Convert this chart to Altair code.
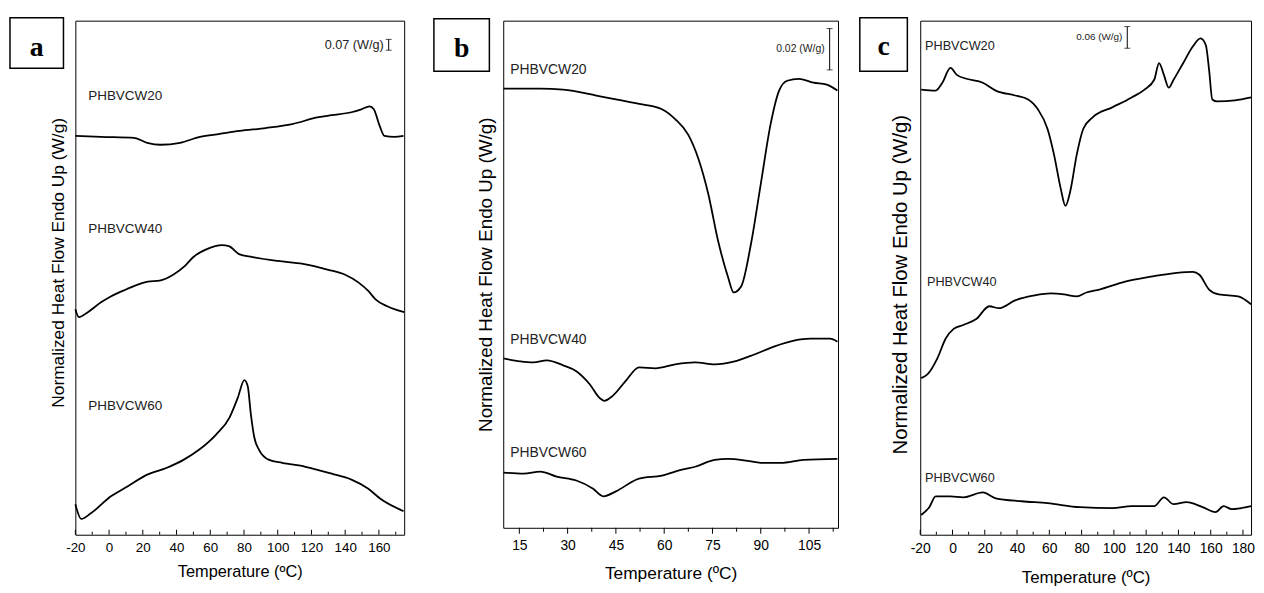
import altair as alt
import pandas as pd

FONT = "Liberation Sans"
SERIF = "Liberation Serif"
SAMPLES = ["PHBVCW20", "PHBVCW40", "PHBVCW60"]

# ---------------- Panel a (heat flow, arbitrary units) ----------------
a20_t = [-20, -4.8, 14.8, 22.6, 30.4, 42.1, 53.9, 65.6, 77.3, 92.9, 108.6, 124.2, 132, 143.7, 149.6, 154.5, 157, 160.3, 163.3, 169.1, 174.6]
a20_v = [405, 404, 403, 398, 396, 398, 404, 407, 410, 413, 417, 424, 426, 429, 432, 435, 432, 416, 405, 404, 405]
a40_t = [-20, -17.9, -12.6, -4.8, 1, 10, 23, 30, 38, 45, 50, 58, 67, 71, 77, 85, 100, 115, 130, 140, 148, 154, 158, 165, 175]
a40_v = [229, 221, 226, 236, 242, 249, 257, 258, 264, 273, 282, 290, 294, 293, 285, 282, 278, 275, 269, 264, 256, 247, 239, 232, 226]
a60_t = [-20, -16.5, -10.6, 1.1, 10.9, 22.6, 34.3, 44.1, 53.9, 63.6, 71.4, 76.3, 80.2, 82.2, 84.1, 86.1, 89, 94.9, 102.7, 116.4, 132, 143.7, 153.5, 161.3, 174.6]
a60_v = [31, 16, 22, 39, 49, 61, 68, 76, 87, 102, 119, 139, 157, 151, 122, 99, 86, 76, 73, 69, 62, 56, 47, 36, 24]
a_label_t = [-12.4, -12.4, -12.4]
a_label_v = [445, 310, 131]
a_bar_t = 165.8
a_bar_v = [492, 503]
a_bar_text = "0.07 (W/g)"
a_major = [-20, 0, 20, 40, 60, 80, 100, 120, 140, 160]
a_minor = [-10, 10, 30, 50, 70, 90, 110, 130, 150, 170]

# ---------------- Panel b ----------------
b20_t = [10.1, 21.5, 28.6, 38.9, 45, 53.2, 59.3, 63.4, 67.5, 70.6, 73.7, 76.7, 79.8, 81.6, 83.9, 87, 90, 93, 95.7, 98.2, 101.8, 106.4, 110.5, 113.8]
b20_v = [446, 446, 445, 439, 435, 430, 425, 415, 399, 375, 339, 292, 255, 239, 245, 289, 349, 409, 444, 454, 456, 452, 450, 444]
b40_t = [10.1, 15.3, 19.4, 23.5, 28.6, 32.7, 36.8, 39.9, 41.4, 44, 48, 52.2, 57.3, 63.4, 69.6, 75.7, 81.9, 88, 94.1, 100.3, 105.4, 111.5, 113.8]
b40_v = [172, 169, 168, 170, 165, 159, 146, 132, 129, 134, 149, 163, 162, 166, 168, 166, 169, 176, 184, 190, 192, 192, 189]
b60_t = [10.1, 16.3, 21.5, 26.6, 32.7, 37.8, 41.1, 45, 52.2, 59.3, 65.5, 69.6, 75.7, 79.8, 85.9, 90, 96.2, 103.3, 113.8]
b60_v = [56, 55, 57, 52, 48, 40, 32, 37, 50, 53, 59, 62, 69, 70, 68, 66, 66, 69, 70]
b_label_t = [12.2, 12.2, 12.2]
b_label_v = [465, 191, 76]
b_bar_t = 111.4
b_bar_v = [465, 507]
b_bar_text = "0.02 (W/g)"
b_major = [15, 30, 45, 60, 75, 90, 105]
b_minor = [22.5, 37.5, 52.5, 67.5, 82.5, 97.5, 112.5]

# ---------------- Panel c ----------------
c20_t = [-19.4, -10.4, -6.3, -1.3, 2.7, 8.7, 18.8, 26.8, 38.8, 46.9, 52.9, 58.9, 62.9, 67, 70, 73, 77, 81, 87, 99, 111, 119, 125, 128, 131, 134, 137, 143, 149, 153.7, 157, 159, 161, 164, 175, 185]
c20_v = [452, 451, 459, 474, 467, 463, 459, 451, 446, 442, 432, 412, 386, 352, 334, 349, 386, 412, 424, 434, 444, 452, 462, 479, 467, 454, 462, 479, 496, 504, 497, 472, 442, 440, 441, 444]
c40_t = [-19.4, -15.4, -9.4, -4.3, 0.7, 6.7, 14.7, 22.8, 28.8, 38.8, 50.9, 61, 69, 77, 83, 91, 107, 123, 139, 149, 153, 159, 165, 177, 185]
c40_v = [159, 163, 179, 199, 209, 213, 219, 232, 230, 238, 243, 245, 244, 242, 246, 249, 257, 262, 266, 267, 264, 249, 244, 242, 234]
c60_t = [-19.4, -14.4, -10.4, -1.3, 6.7, 18.8, 26.8, 42.9, 58.9, 79, 99, 111, 125, 131, 137, 145, 155, 163, 168, 173, 185]
c60_v = [20, 28, 39, 39, 38, 43, 37, 34, 32, 28, 27, 29, 29, 38, 31, 33, 28, 23, 29, 26, 29]
c_label_t = [-17, -15.8, -17]
c_label_v = [496, 257, 58]
c_bar_t = 108.3
c_bar_v = [494, 516]
c_bar_text = "0.06 (W/g)"
c_major = [-20, 0, 20, 40, 60, 80, 100, 120, 140, 160, 180]
c_minor = [-10, 10, 30, 50, 70, 90, 110, 130, 150, 170]

YTITLE = "Normalized Heat Flow Endo Up (W/g)"
XTITLE = "Temperature (ºC)"


def curves_df(ts, vs):
    frames = []
    for name, t, v in zip(SAMPLES, ts, vs):
        frames.append(pd.DataFrame({"T": t, "v": v, "sample": name}))
    return pd.concat(frames, ignore_index=True)


def panel(letter, ts, vs, lab_t, lab_v, bar_t, bar_v, bar_text, major, minor,
          xdom, ydom, w, h, ticks_in, box, letter_xy, sty, extra_right=0):
    xs = alt.Scale(domain=xdom, nice=False, zero=False)
    ys = alt.Scale(domain=ydom, nice=False, zero=False)
    xaxis = alt.Axis(values=major, title=XTITLE, ticks=False, tickSize=0, domain=False,
                     grid=False, labelExpr="'' + datum.value", labelFontSize=sty["lab"],
                     labelPadding=sty["labpad"], titleFontSize=sty["xt"],
                     titlePadding=sty["xtpad"], labelFlush=False)
    yaxis = alt.Axis(title=YTITLE, labels=False, ticks=False, domain=False, grid=False,
                     titleFontSize=sty["yt"], titlePadding=sty["ytpad"], titleY=sty["yty"])

    def X(f):
        return alt.X(f, type="quantitative", scale=xs, axis=xaxis)

    def Y(f):
        return alt.Y(f, type="quantitative", scale=ys, axis=yaxis)

    lines = alt.Chart(curves_df(ts, vs)).mark_line(
        color="black", strokeWidth=1.8, interpolate="monotone"
    ).encode(x=X("T"), y=Y("v"), detail="sample:N")

    labels = alt.Chart(pd.DataFrame({"T": lab_t, "v": lab_v, "name": SAMPLES})).mark_text(
        align="left", baseline="middle", font=FONT, fontSize=sty["name"], color="#222"
    ).encode(x=X("T"), y=Y("v"), text="name:N")

    if ticks_in:
        t_major = alt.Chart(pd.DataFrame({"T": major})).mark_rule(color="black", strokeWidth=1).encode(
            x=X("T"), y=alt.value(h), y2=alt.value(h - 5))
        t_minor = alt.Chart(pd.DataFrame({"T": minor})).mark_rule(color="black", strokeWidth=1).encode(
            x=X("T"), y=alt.value(h), y2=alt.value(h - 3))
    else:
        t_major = alt.Chart(pd.DataFrame({"T": major})).mark_rule(color="black", strokeWidth=1).encode(
            x=X("T"), y=alt.value(h), y2=alt.value(h + 6))
        t_minor = alt.Chart(pd.DataFrame({"T": minor})).mark_rule(color="black", strokeWidth=1).encode(
            x=X("T"), y=alt.value(h), y2=alt.value(h + 4))

    bar_df = pd.DataFrame({"T": [bar_t, bar_t], "v": bar_v})
    bar = alt.Chart(pd.DataFrame({"T": [bar_t], "v1": [bar_v[0]], "v2": [bar_v[1]]})).mark_rule(
        color="black", strokeWidth=1).encode(x=X("T"), y=Y("v1"), y2="v2")
    caps = alt.Chart(bar_df).mark_tick(orient="horizontal", size=6, thickness=1, color="black").encode(
        x=X("T"), y=Y("v"))
    bar_lab = alt.Chart(pd.DataFrame({"T": [bar_t], "v": [sum(bar_v) / 2], "s": [bar_text]})).mark_text(
        align="right", baseline="middle", dx=-5, font=FONT, fontSize=sty["bar"], color="#222"
    ).encode(x=X("T"), y=Y("v"), text="s:N")

    one = pd.DataFrame({"letter": [letter]})
    box_m = alt.Chart(one).mark_rect(fill="white", stroke="black", strokeWidth=1.5).encode(
        x=alt.value(box[0]), x2=alt.value(box[1]), y=alt.value(box[2]), y2=alt.value(box[3]))
    let_m = alt.Chart(one).mark_text(font=SERIF, fontWeight="bold", fontSize=28, align="center",
                                      baseline="alphabetic", color="black").encode(
        x=alt.value(letter_xy[0]), y=alt.value(letter_xy[1]), text="letter:N")

    layers = [lines, labels, t_major, t_minor, bar, caps, bar_lab, box_m, let_m]
    if extra_right:
        spacer = alt.Chart(one).mark_rule(strokeOpacity=0, opacity=0).encode(
            x=alt.value(w), x2=alt.value(w + extra_right), y=alt.value(10))
        layers.append(spacer)
    return alt.layer(*layers).properties(width=w, height=h)


pa = panel("a", [a20_t, a40_t, a60_t], [a20_v, a40_v, a60_v], a_label_t, a_label_v,
           a_bar_t, a_bar_v, a_bar_text, a_major, a_minor, [-20, 175], [0, 522], 332, 519, True,
           (-66, -12, -3, 48), (-39, 36),
           dict(lab=13.5, labpad=6, xt=16.5, xtpad=10, yt=17.5, ytpad=8, yty=244, name=13.6, bar=12.8),
           extra_right=11)
pb = panel("b", [b20_t, b40_t, b60_t], [b20_v, b40_v, b60_v], b_label_t, b_label_v,
           b_bar_t, b_bar_v, b_bar_text, b_major, b_minor, [10, 114], [0, 515], 338, 512, False,
           (-70, -14, -2, 51), (-42, 37),
           dict(lab=14, labpad=11, xt=17.5, xtpad=12, yt=19, ytpad=8, yty=256, name=14, bar=10.5))
pc = panel("c", [c20_t, c40_t, c60_t], [c20_v, c40_v, c60_v], c_label_t, c_label_v,
           c_bar_t, c_bar_v, c_bar_text, c_major, c_minor, [-20, 185], [0, 522], 334, 519, True,
           (-61, -13, -3, 51), (-37, 35),
           dict(lab=14, labpad=7, xt=17, xtpad=14, yt=20.5, ytpad=10, yty=266, name=12.8, bar=10))

chart = alt.hconcat(pa, pb, pc, spacing=16).resolve_scale(x="independent", y="independent").properties(
    padding={"left": 0, "top": 5, "right": 0, "bottom": 0}, background="white"
).configure_view(stroke="black", strokeWidth=1).configure_axis(
    labelFont=FONT, titleFont=FONT, labelColor="black", titleColor="black", titleFontWeight="normal"
)

chart.save("out.html", embed_options={"renderer": "svg", "actions": False})
